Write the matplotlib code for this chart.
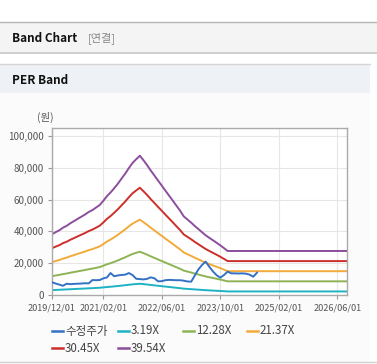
import matplotlib
matplotlib.use('Agg')
import matplotlib.pyplot as plt
import pandas as pd
from matplotlib.patches import Rectangle
from matplotlib.lines import Line2D

plt.rcParams['font.family'] = ['Noto Sans CJK KR', 'DejaVu Sans']

# 밴드 기준 EPS (월별, 2019/12 ~ 2023/12), 이후 차트 끝까지 같은 값
eps = [966, 1000, 1030, 1070, 1100, 1140, 1175, 1210, 1245, 1280, 1320, 1350,
       1390, 1431, 1500, 1570, 1630, 1697, 1770, 1850, 1930, 2020, 2100, 2160,
       2215, 2140, 2060, 1980, 1900, 1820, 1740, 1660, 1580, 1500, 1420, 1340,
       1250, 1200, 1150, 1100, 1050, 1000, 950, 910, 870, 830, 790, 745, 700]
band_end = '2026-08-20'

# 수정주가 (월별, 2019/12 ~ 2024/08)
price = [8000, 7200, 6500, 5800, 7100, 6800, 7000, 7100, 7200, 7400, 7300, 9400,
         9300, 9400, 10500, 11000, 13800, 11800, 12300, 12600, 12800, 13800, 12500, 10200,
         10000, 9800, 10200, 11100, 10500, 8600, 8700, 9300, 9500, 9400, 9300, 9300,
         9000, 8500, 8400, 12000, 16000, 18800, 21000, 17800, 14800, 12400, 10900, 12600,
         14700, 13600, 13600, 13500, 13600, 13400, 12800, 11500, 14000]

multiples = [3.19, 12.28, 21.37, 30.45, 39.54]
band_labels = ['3.19X', '12.28X', '21.37X', '30.45X', '39.54X']
band_colors = ['#1fb2c4', '#8db454', '#f2aa3a', '#cc2f2a', '#8c4e9c']
price_label = '수정주가'
price_color = '#3471c5'

tick_dates = ['2019/12/01', '2021/02/01', '2022/06/01', '2023/10/01', '2025/02/01', '2026/06/01']
y_ticks = [0, 20000, 40000, 60000, 80000, 100000]

eps_dates = list(pd.date_range('2019-12-01', periods=len(eps), freq='MS')) + [pd.Timestamp(band_end)]
eps_vals = eps + [eps[-1]]
price_dates = pd.date_range('2019-12-01', periods=len(price), freq='MS')

W, H = 377, 364
fig = plt.figure(figsize=(W / 100, H / 100), dpi=100)

def fx(px):
    return px / W

def fy(py):
    return 1 - py / H

# 상단 헤더
fig.patches.append(Rectangle((0, fy(53)), 1, fy(22) - fy(53), transform=fig.transFigure,
                             facecolor='#f4f4f4', edgecolor='none', zorder=-5))
fig.add_artist(Line2D([0, 1], [fy(22), fy(22)], color='#b5b5b5', lw=1))
fig.add_artist(Line2D([0, 1], [fy(53), fy(53)], color='#c8c8c8', lw=1.2))
fig.text(fx(12), fy(38), 'Band Chart', fontsize=8.5, fontweight='bold', va='center', color='#111111')
fig.text(fx(88), fy(38), '[연결]', fontsize=8, va='center', color='#888888')

# PER Band 영역
fig.patches.append(Rectangle((0, fy(362)), fx(370), fy(93) - fy(362), transform=fig.transFigure,
                             facecolor='#fbfbfb', edgecolor='none', zorder=-5))
fig.patches.append(Rectangle((0, fy(93)), fx(370), fy(64) - fy(93), transform=fig.transFigure,
                             facecolor='#eef1f6', edgecolor='none', zorder=-5))
fig.add_artist(Line2D([0, fx(370)], [fy(64), fy(64)], color='#d5d5d5', lw=1))
fig.add_artist(Line2D([0, 1], [fy(362), fy(362)], color='#d0d0d0', lw=1))
fig.text(fx(12), fy(80), 'PER Band', fontsize=8.5, fontweight='bold', va='center', color='#111111')

ax = fig.add_axes([fx(52), fy(295), fx(347) - fx(52), fy(128) - fy(295)])
ax.set_facecolor('white')

for m, lab, col in zip(multiples, band_labels, band_colors):
    ax.plot(eps_dates, [e * m for e in eps_vals], color=col, lw=1.4, label=lab, zorder=2)
ax.plot(price_dates, price, color=price_color, lw=1.4, label=price_label, zorder=3)

ax.set_xlim(pd.Timestamp('2019-12-01'), pd.Timestamp(band_end))
ax.set_ylim(0, 105000)
ax.set_yticks(y_ticks)
ax.set_yticklabels([f'{v:,}' for v in y_ticks])
ax.set_xticks([pd.Timestamp(d.replace('/', '-')) for d in tick_dates])
ax.set_xticklabels(tick_dates)
ax.tick_params(colors='#999999', labelcolor='#555555', length=3, width=0.8, pad=3)
ax.tick_params(axis='y', labelsize=7)
ax.tick_params(axis='x', labelsize=6.6)
ax.grid(True, color='#e6e6e6', lw=0.8)
ax.set_axisbelow(True)
for s in ax.spines.values():
    s.set_color('#aaaaaa')
    s.set_linewidth(1)

fig.text(fx(37), fy(117), '(원)', fontsize=7.5, va='center', color='#555555')

# 범례
legend_items = [(price_label, price_color)] + list(zip(band_labels, band_colors))
legend_pos = [(52, 331), (118, 331), (183, 331), (247, 331), (52, 348), (118, 348)]
for (lab, col), (px, py) in zip(legend_items, legend_pos):
    fig.add_artist(Line2D([fx(px), fx(px + 11)], [fy(py), fy(py)], color=col, lw=1.8))
    fig.text(fx(px + 13), fy(py), lab, fontsize=8.3, va='center', color='#444444')

fig.savefig('out.png', dpi=100)
